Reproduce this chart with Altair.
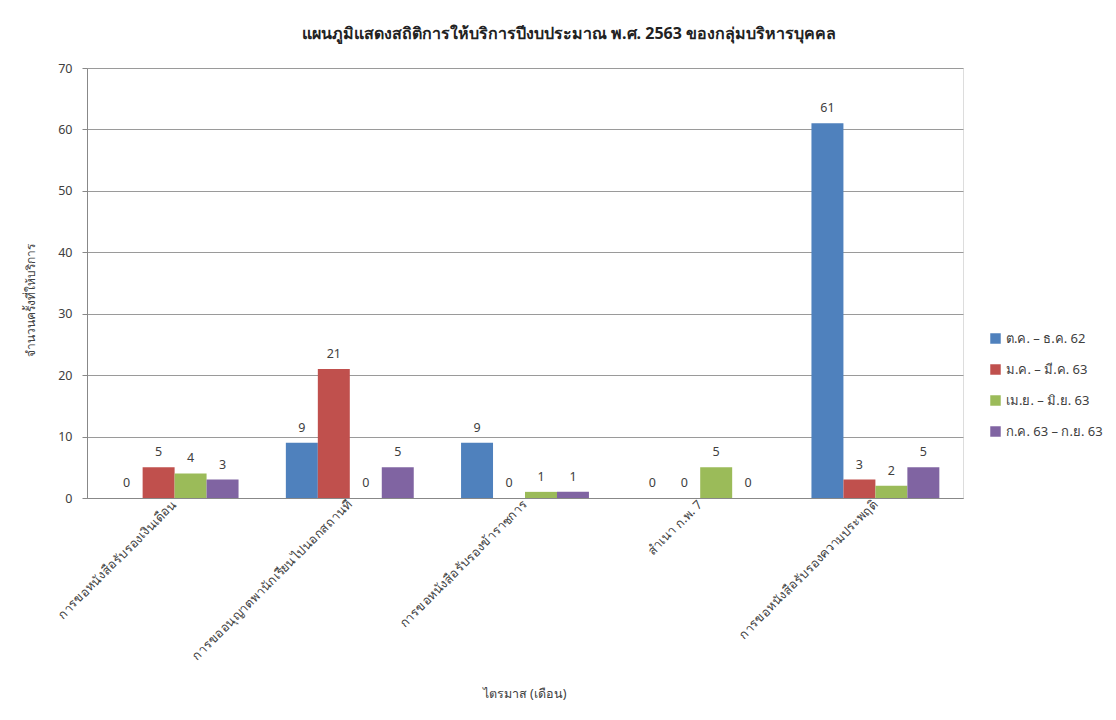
import altair as alt
import pandas as pd

categories = [
    "การขอหนังสือรับรองเงินเดือน",
    "การขออนุญาตพานักเรียนไปนอกสถานที่",
    "การขอหนังสือรับรองข้าราชการ",
    "สำเนา ก.พ. 7",
    "การขอหนังสือรับรองความประพฤติ",
]
series = ["ต.ค. – ธ.ค. 62", "ม.ค. – มี.ค. 63", "เม.ย. – มิ.ย. 63", "ก.ค. 63 – ก.ย. 63"]
q1 = [0, 9, 9, 0, 61]
q2 = [5, 21, 0, 0, 3]
q3 = [4, 0, 1, 5, 2]
q4 = [3, 5, 1, 0, 5]
colors = ["#4F81BD", "#C0504D", "#9BBB59", "#8064A2"]

rows = []
for s, vals in zip(series, [q1, q2, q3, q4]):
    for c, v in zip(categories, vals):
        rows.append({"cat": c, "series": s, "value": v})
df = pd.DataFrame(rows)

FONT = "Noto Sans"

x = alt.X("cat:N", sort=categories,
          scale=alt.Scale(paddingInner=0.27, paddingOuter=0.135),
          axis=alt.Axis(title="ไตรมาส (เดือน)", labelAngle=-45, labelAlign="right",
                        labelBaseline="middle", labelFontSize=12.5, labelColor="#404040",
                        labelPadding=4, ticks=False, domainColor="#888888",
                        titleFontSize=12.5, titleFontWeight="normal", titleColor="#404040",
                        titleX=437, titleY=189, titleAnchor="middle", labelLimit=400))
y = alt.Y("value:Q", scale=alt.Scale(domain=[0, 70]),
          axis=alt.Axis(title="จำนวนครั้งที่ให้บริการ", values=list(range(0, 71, 10)),
                        labelFontSize=12.5, labelColor="#404040", tickSize=5,
                        tickColor="#888888", domainColor="#888888", gridColor="#9a9a9a",
                        titleFontSize=12, titleFontWeight="normal", titleColor="#404040",
                        titleX=-50, titleY=232, titleAngle=-90, labelPadding=10))
xo = alt.XOffset("series:N", sort=series)

bars = alt.Chart(df).mark_bar().encode(
    x=x, y=y, xOffset=xo,
    color=alt.Color("series:N", sort=series,
                    scale=alt.Scale(domain=series, range=colors),
                    legend=alt.Legend(title=None, orient="none", legendX=902, legendY=264,
                                      symbolType="square", symbolSize=110,
                                      symbolStrokeWidth=0, labelFontSize=13,
                                      labelColor="#404040", rowPadding=17, labelFont=FONT)),
)
labels = alt.Chart(df).mark_text(baseline="bottom", dy=-8, fontSize=12.5, color="#404040",
                                 font=FONT).encode(
    x=alt.X("cat:N", sort=categories), y="value:Q", xOffset=xo, text="value:Q")

chart = alt.layer(bars, labels).properties(
    width=876, height=430,
    title=alt.TitleParams("แผนภูมิแสดงสถิติการให้บริการปีงบประมาณ พ.ศ. 2563 ของกลุ่มบริหารบุคคล",
                          fontSize=16, fontWeight="bold", color="#222222", anchor="middle",
                          dx=44, offset=20, font=FONT),
    autosize=alt.AutoSizeParams(type="none"),
    padding={"left": 79, "top": 60, "right": 145, "bottom": 214},
).configure_view(stroke=None).configure(font=FONT, background="white")

chart.save("out.html", embed_options={"renderer": "svg", "actions": False})
